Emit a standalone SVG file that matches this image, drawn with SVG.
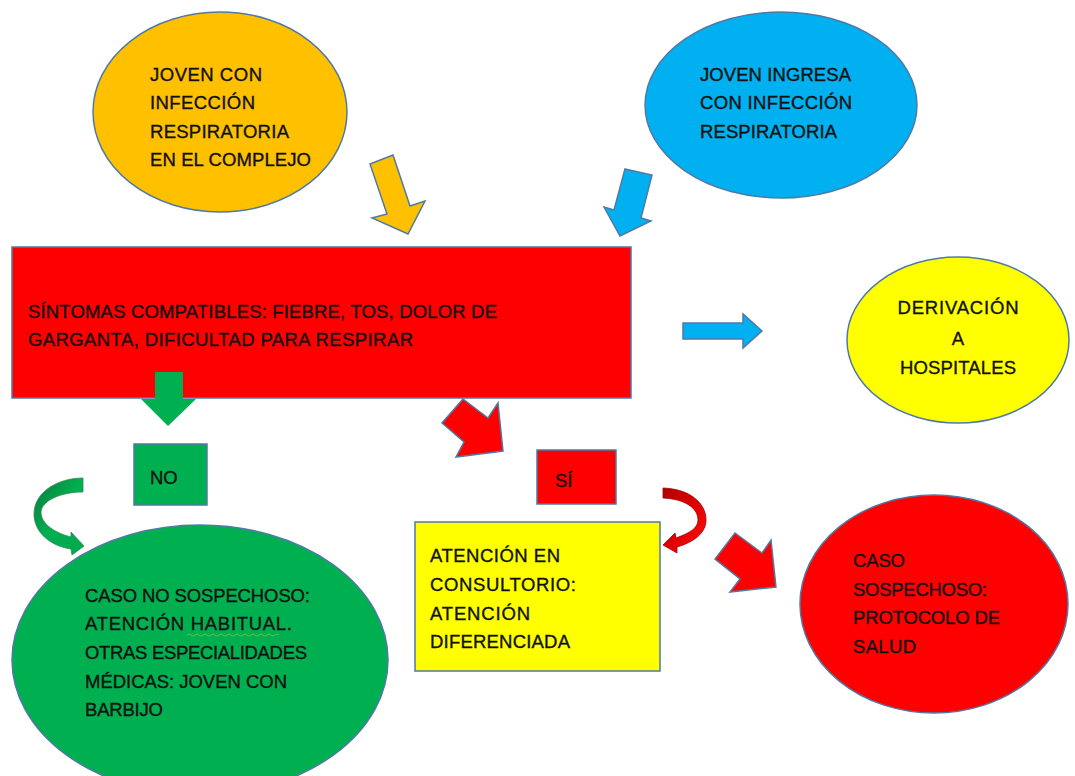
<svg xmlns="http://www.w3.org/2000/svg" width="1075" height="776" viewBox="0 0 1075 776">
<defs>
<style>
.t{font-family:"Liberation Sans",Arial,sans-serif;font-size:18.5px;fill:#111;stroke:#111;stroke-width:0.35px;}
.ol{stroke:#4f7aa6;stroke-width:1.5;}
</style>
<linearGradient id="gg" x1="0" y1="0" x2="1" y2="1">
<stop offset="0" stop-color="#0a7a3a"/><stop offset="0.5" stop-color="#00b050"/><stop offset="1" stop-color="#00a84c"/>
</linearGradient>
<linearGradient id="rg" x1="0" y1="0" x2="1" y2="1">
<stop offset="0" stop-color="#b00000"/><stop offset="0.5" stop-color="#e00000"/><stop offset="1" stop-color="#ff1010"/>
</linearGradient>
</defs>
<rect width="1075" height="776" fill="#fff"/>

<g id="connectors">
<polygon class="ol" fill="#ffc000" points="370,164 393,155 410,206 425,201 408,234 372,218 387,214"/>
<polygon class="ol" fill="#00b0f0" points="625,169 652,175 641,218 651,221 620,236 604,207 614,210"/>
<polygon class="ol" fill="#00b0f0" points="683,323 743,323 743,314 762,331 743,348 743,339 683,339"/>
<polygon fill="#00b050" points="155,372 183,372 183,399 196,399 168,426 141,399 155,399"/>
<polygon class="ol" fill="#ff0000" points="463,399 488,418 498,403 503,451 456,457 464,442 442,423"/>
<polygon class="ol" fill="#ff0000" points="735,533 762,553 771,540 776,587 730,592 740,579 715,559"/>
<path fill="url(#gg)" stroke="#2e8a55" stroke-width="0.8" d="M83,478 L83,492 C62,492 42,500 41,512 C41,524 55,533 71,537 L71,532 L84,546 L72,555 L71,549 C50,546 34,532 34,514 C34,492 58,478 83,478 Z"/>
<path fill="url(#rg)" stroke="#a00000" stroke-width="0.8" d="M663,488 C690,489 706,503 706,520 C706,533 694,542 677,547 L677,553 L663,545 L675,533 L676,538 C690,533 698,528 698,520 C698,508 685,499 663,498 Z"/>
</g>

<g id="n-joven-complejo">
<ellipse class="ol" fill="#ffc000" cx="220" cy="112" rx="127" ry="100"/>
<text class="t" x="150" y="81" textLength="112">JOVEN CON</text>
<text class="t" x="150" y="109" textLength="105">INFECCIÓN</text>
<text class="t" x="150" y="138" textLength="139">RESPIRATORIA</text>
<text class="t" x="150" y="166" textLength="161">EN EL COMPLEJO</text>
</g>

<g id="n-joven-ingresa">
<ellipse class="ol" fill="#00b0f0" cx="781" cy="105" rx="136" ry="93"/>
<text class="t" x="700" y="81" textLength="151">JOVEN INGRESA</text>
<text class="t" x="700" y="109" textLength="152">CON INFECCIÓN</text>
<text class="t" x="700" y="138" textLength="137">RESPIRATORIA</text>
</g>

<g id="n-sintomas">
<rect class="ol" fill="#ff0000" x="12" y="247" width="619" height="151"/>
<text class="t" x="28" y="318" textLength="469">SÍNTOMAS COMPATIBLES: FIEBRE, TOS, DOLOR DE</text>
<text class="t" x="28" y="346" textLength="385">GARGANTA, DIFICULTAD PARA RESPIRAR</text>
</g>
<polygon fill="#00b050" points="155,372 183,372 183,399 155,399"/>

<g id="n-derivacion">
<ellipse class="ol" fill="#ffff00" cx="958" cy="340" rx="111" ry="83"/>
<text class="t" x="958" y="314" text-anchor="middle" textLength="121">DERIVACIÓN</text>
<text class="t" x="958" y="345" text-anchor="middle">A</text>
<text class="t" x="958" y="374" text-anchor="middle" textLength="116">HOSPITALES</text>
</g>

<g id="n-no">
<rect class="ol" fill="#00b050" x="134" y="444" width="73" height="61"/>
<text class="t" x="150" y="484">NO</text>
</g>

<g id="n-si">
<rect class="ol" fill="#ff0000" x="537" y="450" width="79" height="54"/>
<text class="t" x="555" y="487">SÍ</text>
</g>

<g id="n-consultorio">
<rect class="ol" fill="#ffff00" x="415" y="522" width="245" height="149"/>
<text class="t" x="430" y="562" textLength="130">ATENCIÓN EN</text>
<text class="t" x="430" y="591" textLength="146">CONSULTORIO:</text>
<text class="t" x="430" y="620" textLength="100">ATENCIÓN</text>
<text class="t" x="430" y="648" textLength="140">DIFERENCIADA</text>
</g>

<g id="n-no-sospechoso">
<ellipse class="ol" fill="#00b050" cx="200" cy="660" rx="188" ry="135"/>
<text class="t" x="85" y="602" textLength="225">CASO NO SOSPECHOSO:</text>
<text class="t" x="85" y="630" textLength="207">ATENCIÓN HABITUAL.</text>
<path d="M187,635 q2,-2 4,0 t4,0 t4,0 t4,0 t4,0 t4,0 t4,0 t4,0 t4,0 t4,0 t4,0 t4,0 t4,0 t4,0 t4,0 t4,0 t4,0 t4,0 t4,0 t4,0 t4,0 t4,0 t4,0" fill="none" stroke="#6fbf40" stroke-width="0.9"/>
<text class="t" x="85" y="659" textLength="222">OTRAS ESPECIALIDADES</text>
<text class="t" x="85" y="688" textLength="202">MÉDICAS: JOVEN CON</text>
<text class="t" x="85" y="716" textLength="78">BARBIJO</text>
</g>

<g id="n-sospechoso">
<ellipse class="ol" fill="#ff0000" cx="934" cy="604" rx="134" ry="109"/>
<text class="t" x="853" y="567" textLength="52">CASO</text>
<text class="t" x="853" y="596" textLength="134">SOSPECHOSO:</text>
<text class="t" x="853" y="624" textLength="147">PROTOCOLO DE</text>
<text class="t" x="853" y="653" textLength="63">SALUD</text>
</g>
</svg>
